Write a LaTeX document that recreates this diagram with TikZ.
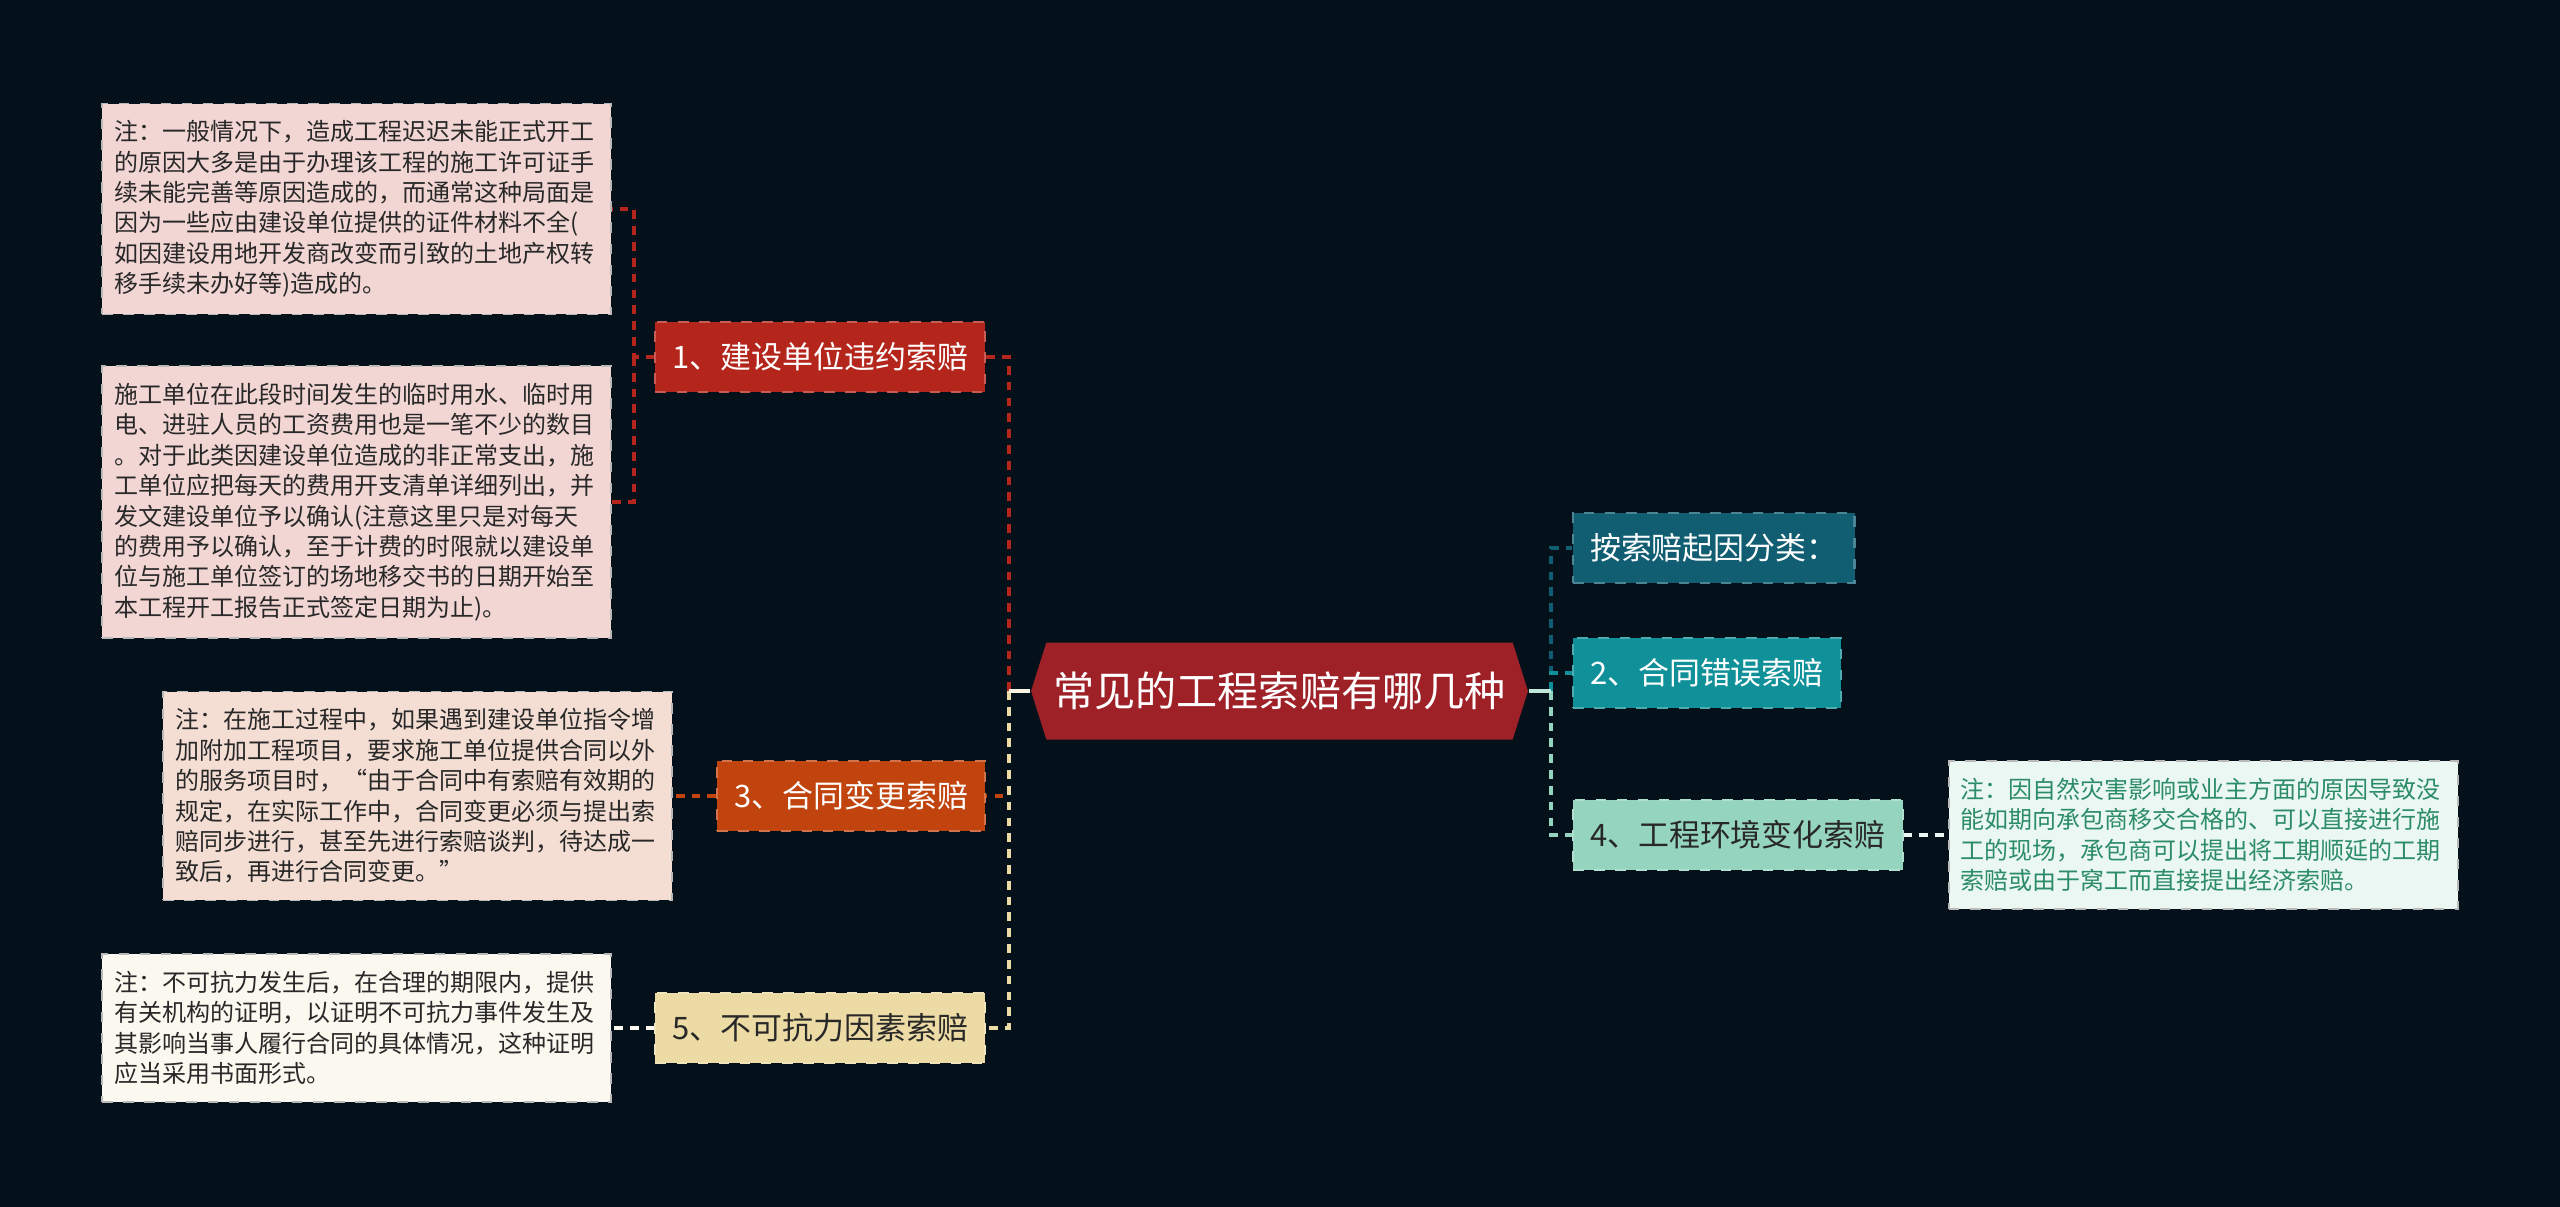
\documentclass[tikz,border=0pt]{standalone}
\usepackage{fontspec}
\setmainfont{Noto Sans CJK SC}
\usetikzlibrary{shapes.symbols}
\definecolor{latarsp}{RGB}{4,17,26}
\definecolor{pusatsp}{RGB}{158,33,40}
\definecolor{merahsp}{RGB}{180,38,28}
\definecolor{merahmudasp}{RGB}{242,214,212}
\definecolor{jinggasp}{RGB}{193,68,14}
\definecolor{persiksp}{RGB}{244,222,212}
\definecolor{pasirsp}{RGB}{236,219,165}
\definecolor{krimsp}{RGB}{251,248,239}
\definecolor{tealtuasp}{RGB}{17,94,115}
\definecolor{tealsp}{RGB}{16,145,153}
\definecolor{mintsp}{RGB}{149,213,191}
\definecolor{mintmudasp}{RGB}{234,247,242}
\definecolor{hijausp}{RGB}{44,140,104}
\definecolor{tintasp}{RGB}{40,40,40}

\begin{document}
\begin{tikzpicture}[
  cabang/.style={draw=#1!75!white, fill=#1, dashed, line width=0.6pt, minimum height=0.7cm, inner xsep=0.17cm, inner ysep=0pt, font=\fontsize{8.8}{10}\selectfont},
  catatan/.style={draw=gray!55, fill=#1, dashed, line width=0.5pt, text width=4.85cm, inner xsep=0.12cm, inner ysep=0.17cm, align=left, text=tintasp, font=\fontsize{6.83}{8.65}\selectfont},
  garis/.style={line width=1.1pt, dash pattern=on 2.5pt off 2pt}]
                \fill[latarsp] (0,0) rectangle (25.6,-12.07);
                \node[shape=signal, signal to=west and east, signal pointer angle=145, fill=pusatsp, text=white, minimum height=0.97cm, inner xsep=0.07cm, font=\fontsize{11.7}{14}\selectfont] (pusat) at (12.795,-6.91) {常见的工程索赔有哪几种};
                \node[cabang=merahsp, text=white, anchor=east] (sp1) at (9.86,-3.57) {1、建设单位违约索赔};
                \node[cabang=jinggasp, text=white, anchor=east] (sp3) at (9.86,-7.96) {3、合同变更索赔};
                \node[cabang=pasirsp, text=tintasp, anchor=east] (sp5) at (9.86,-10.28) {5、不可抗力因素索赔};
                \node[cabang=tealtuasp, text=white, anchor=west] (jenis) at (15.72,-5.48) {按索赔起因分类：};
                \node[cabang=tealsp, text=white, anchor=west] (sp2) at (15.72,-6.73) {2、合同错误索赔};
                \node[cabang=mintsp, text=tintasp, anchor=west] (sp4) at (15.72,-8.35) {4、工程环境变化索赔};
                \node[catatan=merahmudasp, anchor=east] (cat1a) at (6.12,-2.09) {注：一般情况下，造成工程迟迟未能正式开工\\的原因大多是由于办理该工程的施工许可证手\\续未能完善等原因造成的，而通常这种局面是\\因为一些应由建设单位提供的证件材料不全(\\如因建设用地开发商改变而引致的土地产权转\\移手续未办好等)造成的。};
                \node[catatan=merahmudasp, anchor=east] (cat1b) at (6.12,-5.02) {施工单位在此段时间发生的临时用水、临时用\\电、进驻人员的工资费用也是一笔不少的数目\\。对于此类因建设单位造成的非正常支出，施\\工单位应把每天的费用开支清单详细列出，并\\发文建设单位予以确认(注意这里只是对每天\\的费用予以确认，至于计费的时限就以建设单\\位与施工单位签订的场地移交书的日期开始至\\本工程开工报告正式签定日期为止)。};
                \node[catatan=persiksp, anchor=east] (cat3) at (6.73,-7.96) {注：在施工过程中，如果遇到建设单位指令增\\加附加工程项目，要求施工单位提供合同以外\\的服务项目时，“由于合同中有索赔有效期的\\规定，在实际工作中，合同变更必须与提出索\\赔同步进行，甚至先进行索赔谈判，待达成一\\致后，再进行合同变更。”};
                \node[catatan=krimsp, anchor=east] (cat5) at (6.12,-10.28) {注：不可抗力发生后，在合理的期限内，提供\\有关机构的证明，以证明不可抗力事件发生及\\其影响当事人履行合同的具体情况，这种证明\\应当采用书面形式。};
                \node[catatan=mintmudasp, text=hijausp, anchor=west] (cat4) at (19.48,-8.35) {注：因自然灾害影响或业主方面的原因导致没\\能如期向承包商移交合格的、可以直接进行施\\工的现场，承包商可以提出将工期顺延的工期\\索赔或由于窝工而直接提出经济索赔。};
                \coordinate (kiri) at (10.09,-6.91);
                \coordinate (kanan) at (15.51,-6.91);
                \coordinate (cab1) at (6.34,-3.57);
                \draw[garis, merahsp] (kiri) |- (sp1.east);
                \draw[garis, jinggasp] (kiri) |- (sp3.east);
                \draw[garis, pasirsp] (kiri) |- (sp5.east);
                \draw[line width=1.1pt, krimsp!85!pasirsp] (pusat.west) -- (kiri);
                \draw[garis, tealtuasp] (kanan) |- (jenis.west);
                \draw[garis, tealsp] (kanan) |- (sp2.west);
                \draw[garis, mintsp] (kanan) |- (sp4.west);
                \draw[line width=1.1pt, mintsp!60!white] (pusat.east) -- (kanan);
                \draw[garis, merahsp] (sp1.west) -- (cab1) |- (cat1a.east);
                \draw[garis, merahsp] (cab1) |- (cat1b.east);
                \draw[garis, jinggasp] (sp3.west) -- (cat3.east);
                \draw[garis, krimsp] (sp5.west) -- (cat5.east);
                \draw[garis, mintmudasp] (sp4.east) -- (cat4.west);
            \end{tikzpicture}
\end{document}
